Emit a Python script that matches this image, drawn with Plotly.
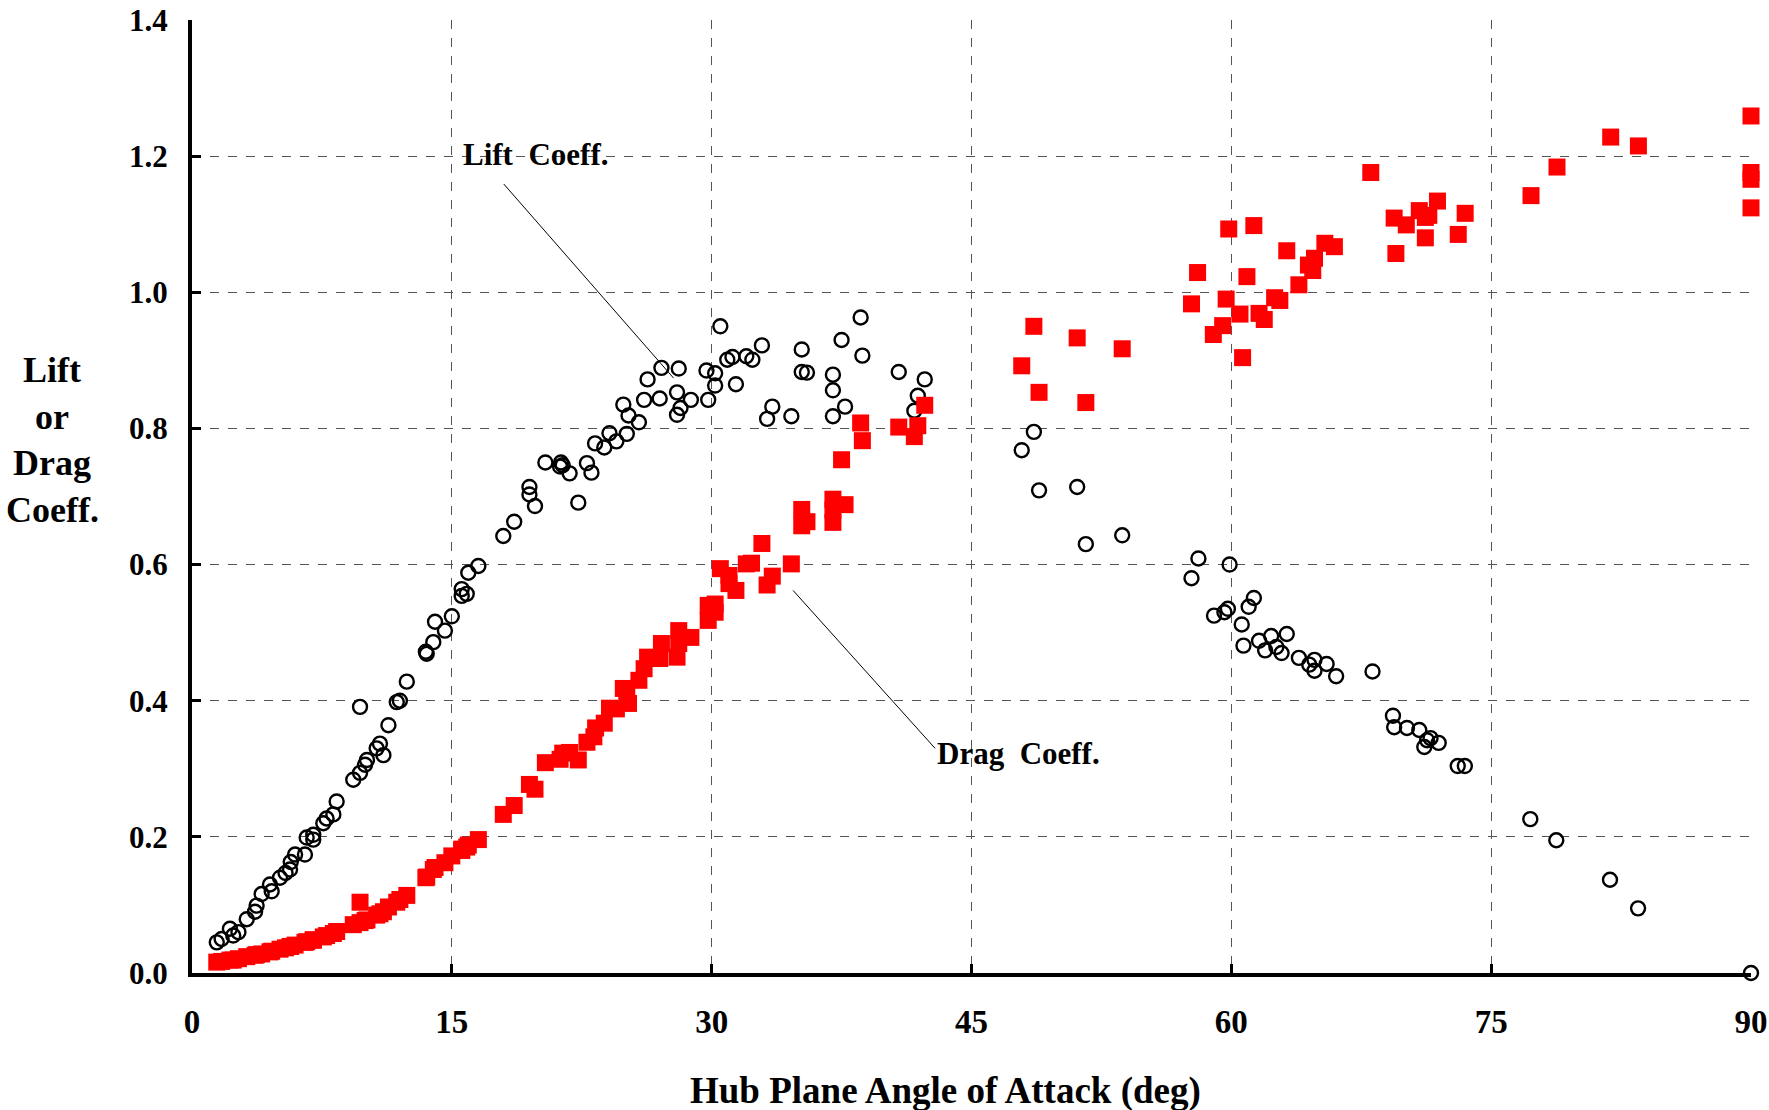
import plotly.graph_objects as go

# ---- data ----
lift_angle = [1.43, 1.71, 2.19, 2.38, 2.68, 3.16, 3.64, 3.73, 4.02, 4.50, 4.60, 5.08, 5.40, 5.66, 5.70,
              5.95, 6.52, 6.62, 7.00, 7.00, 7.58, 7.77, 8.16, 8.35, 9.31, 9.70, 9.70, 9.99, 10.10, 10.66,
              10.85, 11.05, 11.34, 11.82, 12.00, 12.40, 13.50, 13.55, 13.93, 14.03, 14.60, 15.00, 15.57,
              15.57, 15.86, 15.95, 16.53, 17.97, 18.60, 19.48, 19.48, 19.80, 20.40, 21.25, 21.30, 21.40,
              21.80, 22.30, 22.80, 23.06, 23.27, 23.80, 24.10, 24.50, 24.90, 25.10, 25.20, 25.80, 26.10,
              26.30, 27.00, 27.10, 28.00, 28.10, 28.00, 28.20, 28.80, 29.70, 29.80, 30.20, 30.20, 30.50,
              30.90, 31.20, 31.40, 32.00, 32.35, 32.90, 33.20, 33.50, 34.60, 35.20, 35.20, 35.50, 37.00,
              37.00, 37.00, 37.50, 37.70, 38.60, 38.70, 40.80, 41.70, 41.90, 42.30, 47.90, 48.60, 48.90,
              51.10, 51.60, 53.70, 57.70, 58.10, 59.00, 59.60, 59.80, 59.90, 60.60, 60.70, 61.00, 61.30,
              61.60, 61.95, 62.30, 62.60, 62.90, 63.20, 63.90, 64.50, 64.80, 64.80, 65.50, 66.05, 68.15,
              69.33, 69.40, 70.14, 70.85, 71.14, 71.30, 71.50, 71.97, 73.07, 73.48, 77.26, 78.76, 81.86,
              83.48, 90.00]
lift_coeff = [0.045, 0.050, 0.065, 0.055, 0.060, 0.079, 0.090, 0.099, 0.116, 0.130, 0.120, 0.140, 0.147,
              0.152, 0.163, 0.174, 0.174, 0.199, 0.203, 0.196, 0.220, 0.227, 0.233, 0.252, 0.284, 0.294,
              0.391, 0.306, 0.313, 0.330, 0.337, 0.320, 0.364, 0.398, 0.400, 0.428, 0.472, 0.469, 0.486,
              0.516, 0.503, 0.524, 0.554, 0.564, 0.557, 0.588, 0.598, 0.642, 0.663, 0.714, 0.703, 0.686,
              0.750, 0.744, 0.750, 0.746, 0.734, 0.691, 0.749, 0.735, 0.778, 0.772, 0.793, 0.781, 0.835,
              0.792, 0.819, 0.809, 0.842, 0.872, 0.844, 0.889, 0.853, 0.888, 0.820, 0.830, 0.842, 0.885,
              0.842, 0.881, 0.863, 0.950, 0.901, 0.905, 0.865, 0.906, 0.901, 0.922, 0.814, 0.832, 0.818,
              0.916, 0.883, 0.882, 0.879, 0.856, 0.818, 0.930, 0.832, 0.963, 0.907, 0.883, 0.826, 0.848,
              0.872, 0.768, 0.795, 0.709, 0.714, 0.630, 0.643, 0.580, 0.609, 0.525, 0.530, 0.535, 0.600,
              0.512, 0.481, 0.538, 0.551, 0.488, 0.474, 0.495, 0.479, 0.470, 0.498, 0.463, 0.453, 0.460,
              0.444, 0.454, 0.436, 0.443, 0.378, 0.361, 0.360, 0.357, 0.332, 0.342, 0.345, 0.338, 0.304,
              0.304, 0.226, 0.195, 0.137, 0.095, 0.000]

drag_angle = [1.43, 1.71, 2.19, 2.38, 2.68, 3.16, 3.64, 3.73, 4.02, 4.50, 4.60, 5.08, 5.40, 5.66, 5.70,
              5.95, 6.52, 6.62, 7.00, 7.00, 7.58, 7.77, 8.16, 8.35, 9.31, 9.70, 9.70, 9.99, 10.10, 10.66,
              10.85, 11.05, 11.34, 11.82, 12.00, 12.40, 13.50, 13.55, 13.93, 14.03, 14.60, 15.00, 15.57,
              15.57, 15.86, 15.95, 16.53, 17.97, 18.60, 19.48, 19.80, 20.40, 21.25, 21.40, 21.80, 22.30,
              22.80, 23.20, 23.30, 23.80, 24.10, 24.50, 24.90, 25.10, 25.20, 25.80, 26.10, 26.30, 27.00,
              27.10, 28.00, 28.10, 28.10, 28.80, 29.80, 29.80, 30.20, 30.20, 30.50, 31.00, 31.00, 31.40,
              32.00, 32.30, 32.90, 33.20, 33.50, 34.60, 35.20, 35.20, 35.50, 37.00, 37.00, 37.00, 37.50,
              37.70, 38.60, 38.70, 40.80, 41.70, 41.90, 42.30, 47.90, 48.60, 48.90, 51.10, 51.60, 53.70,
              57.70, 58.05, 58.96, 59.50, 59.70, 59.85, 60.50, 60.65, 60.90, 61.30, 61.60, 61.90, 62.50,
              62.80, 63.20, 63.90, 64.45, 64.70, 64.80, 65.40, 65.95, 68.05, 69.40, 69.50, 70.10, 70.85,
              71.20, 71.20, 71.40, 71.90, 73.10, 73.50, 77.30, 78.80, 81.90, 83.50, 90.00, 90.00, 90.00,
              90.00]
drag_coeff = [0.016, 0.017, 0.019, 0.019, 0.021, 0.024, 0.026, 0.027, 0.028, 0.031, 0.032, 0.035, 0.037,
              0.039, 0.039, 0.041, 0.045, 0.046, 0.048, 0.049, 0.053, 0.055, 0.058, 0.061, 0.071, 0.074,
              0.104, 0.077, 0.078, 0.085, 0.087, 0.090, 0.097, 0.104, 0.108, 0.114, 0.140, 0.141, 0.152,
              0.155, 0.162, 0.172, 0.180, 0.182, 0.185, 0.188, 0.196, 0.233, 0.246, 0.277, 0.270, 0.309,
              0.314, 0.323, 0.324, 0.313, 0.339, 0.347, 0.360, 0.367, 0.389, 0.388, 0.418, 0.410, 0.396,
              0.430, 0.447, 0.464, 0.462, 0.484, 0.464, 0.484, 0.503, 0.493, 0.518, 0.540, 0.530, 0.542,
              0.594, 0.584, 0.572, 0.562, 0.601, 0.602, 0.631, 0.570, 0.583, 0.601, 0.681, 0.657, 0.663,
              0.696, 0.680, 0.662, 0.754, 0.688, 0.808, 0.782, 0.802, 0.788, 0.804, 0.834, 0.892, 0.950,
              0.853, 0.933, 0.838, 0.917, 0.983, 1.029, 0.938, 0.951, 0.990, 1.093, 0.968, 0.904, 1.023,
              1.098, 0.969, 0.960, 0.992, 0.988, 1.061, 1.011, 1.040, 1.032, 1.050, 1.072, 1.067, 1.176,
              1.109, 1.057, 1.099, 1.120, 1.110, 1.080, 1.113, 1.134, 1.085, 1.116, 1.142, 1.184, 1.228,
              1.215, 1.259, 1.176, 1.166, 1.124]

x_ticks = [0, 15, 30, 45, 60, 75, 90]
y_ticks = [0.0, 0.2, 0.4, 0.6, 0.8, 1.0, 1.2, 1.4]

FONT = "Liberation Serif, Times New Roman, serif"

W, H = 1769, 1110
ML, MR, MT, MB = 192, 18, 20, 137
W_plot = W - ML - MR
H_plot = H - MT - MB


def px_to_paper(px, py):
    return (px - ML) / W_plot, 1 - (py - MT) / H_plot


fig = go.Figure()
fig.add_trace(go.Scatter(
    x=lift_angle, y=lift_coeff, mode="markers", name="Lift Coeff.",
    marker=dict(symbol="circle-open", size=14, color="black", line=dict(color="black", width=2.4)),
    cliponaxis=False,
))
fig.add_trace(go.Scatter(
    x=drag_angle, y=drag_coeff, mode="markers", name="Drag Coeff.",
    marker=dict(symbol="square", size=17, color="#ff0000", line=dict(width=0)),
    cliponaxis=False,
))

# leader lines for the labels
fig.add_shape(type="line", xref="x", yref="y", x0=18.0, y0=1.159, x1=27.8, y1=0.874,
              line=dict(color="black", width=1))
fig.add_shape(type="line", xref="x", yref="y", x0=34.7, y0=0.562, x1=42.9, y1=0.330,
              line=dict(color="black", width=1))

fig.add_annotation(x=19.85, y=1.2025, xref="x", yref="y", text="Lift\u00a0\u00a0Coeff.", showarrow=False,
                   font=dict(family=FONT, size=31, color="black", weight="bold"))
fig.add_annotation(x=47.7, y=0.322, xref="x", yref="y", text="Drag\u00a0\u00a0Coeff.", showarrow=False,
                   font=dict(family=FONT, size=31, color="black", weight="bold"))

# y-axis title, one line per annotation
for i, word in enumerate(["Lift", "or", "Drag", "Coeff."]):
    ax_, ay_ = px_to_paper(52, 370 + i * 46.5)
    fig.add_annotation(x=ax_, y=ay_, xref="paper", yref="paper", text=word, showarrow=False,
                       xanchor="center", yanchor="middle",
                       font=dict(family=FONT, size=36, color="black", weight="bold"))

# x-axis title
tx, ty = px_to_paper(945, 1091)
fig.add_annotation(x=tx, y=ty, xref="paper", yref="paper", text="Hub Plane Angle of Attack (deg)",
                   showarrow=False, xanchor="center", yanchor="middle",
                   font=dict(family=FONT, size=37, color="black", weight="bold"))

fig.update_layout(
    width=W, height=H,
    margin=dict(l=ML, r=MR, t=MT, b=MB, autoexpand=False),
    paper_bgcolor="white", plot_bgcolor="white",
    showlegend=False,
    font=dict(family=FONT, color="black"),
)

fig.update_xaxes(
    range=[0, 90], tickvals=x_ticks, ticktext=[str(v) for v in x_ticks],
    showline=True, linewidth=4, linecolor="black", mirror=False,
    ticks="inside", ticklen=9, tickwidth=3, tickcolor="black",
    showgrid=True, gridcolor="#555555", gridwidth=1, griddash="dash",
    zeroline=False, ticklabelstandoff=16, automargin=False, ticklabeloverflow="allow",
    tickfont=dict(family=FONT, size=33, color="black", weight="bold"),
)
fig.update_yaxes(
    range=[0, 1.4], tickvals=y_ticks, ticktext=["%.1f" % v for v in y_ticks],
    showline=True, linewidth=4, linecolor="black", mirror=False,
    ticks="inside", ticklen=9, tickwidth=3, tickcolor="black",
    showgrid=True, gridcolor="#555555", gridwidth=1, griddash="dash",
    zeroline=False, ticklabelstandoff=14, automargin=False, ticklabeloverflow="allow",
    tickfont=dict(family=FONT, size=31, color="black", weight="bold"),
)

fig.write_html("out.html", config={"displayModeBar": False},
               post_script="document.body.style.margin='0';")
